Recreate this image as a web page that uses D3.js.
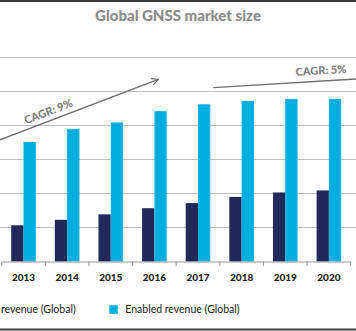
<!DOCTYPE html>
<html>
<head>
<meta charset="utf-8">
<script src="https://d3js.org/d3.v7.min.js"></script>
<style>
  body { margin: 0; background: #fff; }
  text { font-family: Lato, "Open Sans", sans-serif; }
</style>
</head>
<body>
<div id="my_dataviz"></div>
<script>

// data (EUR bn, approx.)
var years = ["2013", "2014", "2015", "2016", "2017", "2018", "2019", "2020"];
var coreRevenue = [1.06, 1.22, 1.38, 1.56, 1.71, 1.89, 2.02, 2.08];
var enabledRevenue = [3.50, 3.88, 4.07, 4.40, 4.60, 4.70, 4.76, 4.76];
var yTicks = [0, 1, 2, 3, 4, 5, 6];
var seriesNames = ["Core revenue (Global)", "Enabled revenue (Global)"];

// CAGR trend annotations, in year / value space
var cagrLines = [
  { label: "CAGR: 9%", from: [2012.46, 3.56], to: [2016.09, 5.33], head: true },
  { label: "CAGR: 5%", from: [2017.35, 5.09], to: [2021.0, 5.37], head: true }
];
var cagrLabels = [
  { label: "CAGR: 9%", at: [2013.58, 4.36] },
  { label: "CAGR: 5%", at: [2019.82, 5.56] }
];

var width = 356, height = 331;
var colors = ["#23285a", "#00aee0"];

var svg = d3.select("#my_dataviz")
  .append("svg")
    .attr("width", width)
    .attr("height", height);

// frame lines top and bottom
svg.append("line").attr("x1", 0).attr("x2", width).attr("y1", 1).attr("y2", 1)
  .attr("stroke", "#3a3a3a").attr("stroke-width", 2);
svg.append("line").attr("x1", 0).attr("x2", width).attr("y1", 329.5).attr("y2", 329.5)
  .attr("stroke", "#3a3a3a").attr("stroke-width", 2);

// title
svg.append("text")
  .attr("x", 178)
  .attr("y", 21)
  .attr("text-anchor", "middle")
  .style("font-size", "15px")
  .style("font-weight", "900")
  .style("fill", "#8c8c8c")
  .text("Global GNSS market size");

// scales
var x = d3.scaleBand()
  .domain(years)
  .range([1.7, 350.7])
  .paddingInner(0)
  .paddingOuter(0);

var xs = d3.scaleBand()
  .domain([0, 1])
  .range([x.bandwidth() / 2 - 12.3, x.bandwidth() / 2 + 12.3]);

var y = d3.scaleLinear()
  .domain([0, 6])
  .range([261.5, 56.5]);

// year as a number -> centre of its band
var xYear = d3.scaleLinear()
  .domain([2013, 2020])
  .range([x("2013") + x.bandwidth() / 2, x("2020") + x.bandwidth() / 2]);

// gridlines
svg.append("g")
  .selectAll("line")
  .data(yTicks.slice(1))
  .enter()
  .append("line")
    .attr("x1", 0)
    .attr("x2", width)
    .attr("y1", function(d) { return Math.round(y(d)) + 0.5; })
    .attr("y2", function(d) { return Math.round(y(d)) + 0.5; })
    .attr("stroke", "#bdbdbd")
    .attr("stroke-width", 1.2);

// bars
var groups = svg.append("g")
  .selectAll("g")
  .data(years)
  .enter()
  .append("g")
    .attr("transform", function(d) { return "translate(" + x(d) + ",0)"; });

groups.selectAll("rect")
  .data(function(d, i) { return [coreRevenue[i], enabledRevenue[i]]; })
  .enter()
  .append("rect")
    .attr("x", function(d, i) { return xs(i); })
    .attr("width", xs.bandwidth())
    .attr("y", function(d) { return y(d); })
    .attr("height", function(d) { return y(0) - y(d); })
    .attr("fill", function(d, i) { return colors[i]; });

// x axis
svg.append("g")
  .attr("transform", "translate(0," + y(0) + ")")
  .call(d3.axisBottom(x).tickSize(0).tickPadding(12))
  .call(function(g) {
    g.select(".domain").attr("stroke", "#9a9a9a").attr("stroke-width", 1.2);
    g.selectAll("text")
      .style("font-family", "Lato, sans-serif")
      .style("font-size", "10px")
      .style("font-weight", "900")
      .style("fill", "#222");
  });

// small separator ticks between years
svg.append("g")
  .selectAll("line")
  .data(years.concat(["end"]))
  .enter()
  .append("line")
    .attr("x1", function(d) { return d === "end" ? x.range()[1] : x(d); })
    .attr("x2", function(d) { return d === "end" ? x.range()[1] : x(d); })
    .attr("y1", y(0))
    .attr("y2", y(0) + 4.5)
    .attr("stroke", "#9a9a9a")
    .attr("stroke-width", 1);

// CAGR arrows
svg.append("defs").append("marker")
  .attr("id", "arrow")
  .attr("viewBox", "0 0 10 10")
  .attr("refX", 9)
  .attr("refY", 5)
  .attr("markerWidth", 6)
  .attr("markerHeight", 6)
  .attr("orient", "auto")
  .append("path")
    .attr("d", "M1,1 L9,5 L1,9")
    .attr("fill", "none")
    .attr("stroke", "#6f6f6f")
    .attr("stroke-width", 1.5);

svg.append("g")
  .selectAll("line")
  .data(cagrLines)
  .enter()
  .append("line")
    .attr("x1", function(d) { return xYear(d.from[0]); })
    .attr("y1", function(d) { return y(d.from[1]); })
    .attr("x2", function(d) { return xYear(d.to[0]); })
    .attr("y2", function(d) { return y(d.to[1]); })
    .attr("stroke", "#6f6f6f")
    .attr("stroke-width", 1.4)
    .attr("marker-end", function(d) { return d.head ? "url(#arrow)" : null; });

svg.append("g")
  .selectAll("text")
  .data(cagrLabels)
  .enter()
  .append("text")
    .attr("text-anchor", "middle")
    .attr("dominant-baseline", "middle")
    .attr("transform", function(d, i) {
      var l = cagrLines[i];
      var ang = Math.atan2(y(l.to[1]) - y(l.from[1]), xYear(l.to[0]) - xYear(l.from[0])) * 180 / Math.PI;
      return "translate(" + xYear(d.at[0]) + "," + y(d.at[1]) + ") rotate(" + ang + ")";
    })
    .style("font-size", "11px")
    .style("font-weight", "900")
    .style("fill", "#808080")
    .text(function(d) { return d.label; });

// legend (first item runs off the left edge, as in the source)
var legend = svg.append("g");
legend.append("rect")
  .attr("x", -60).attr("y", 305.3)
  .attr("width", 8.5).attr("height", 8.5)
  .attr("fill", colors[0]);
legend.append("text")
  .attr("x", 75.7).attr("y", 313)
  .attr("text-anchor", "end")
  .style("font-size", "10.5px")
  .style("fill", "#222")
  .text(seriesNames[0]);
legend.append("rect")
  .attr("x", 109.3).attr("y", 305.3)
  .attr("width", 8.5).attr("height", 8.5)
  .attr("fill", colors[1]);
legend.append("text")
  .attr("x", 125.3).attr("y", 313)
  .style("font-size", "10.5px")
  .style("fill", "#222")
  .text(seriesNames[1]);

</script>
</body>
</html>
